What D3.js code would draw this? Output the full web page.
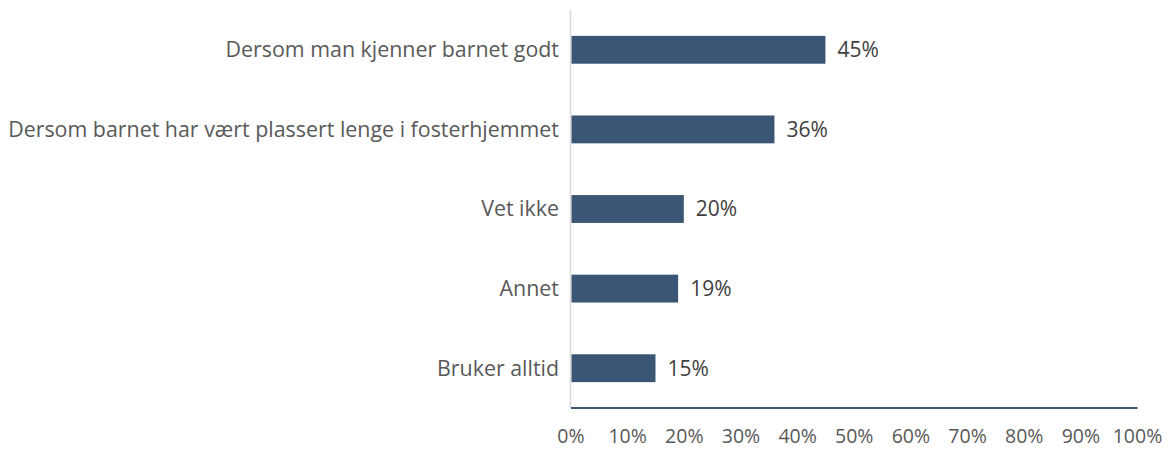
<!DOCTYPE html>
<html><head><meta charset="utf-8">
<script src="https://cdn.jsdelivr.net/npm/d3@7"></script>
<style>body{margin:0;background:#fff}svg{display:block}</style>
</head><body>
<svg id="c" width="1171" height="450"></svg>
<script>
const categories = ["Dersom man kjenner barnet godt","Dersom barnet har vært plassert lenge i fosterhjemmet","Vet ikke","Annet","Bruker alltid"];
const values = [45,36,20,19,15];
const tickValues = [0,10,20,30,40,50,60,70,80,90,100];

const svg = d3.select("#c");
const font = "'Open Sans', sans-serif";
const fs = 21;
const x = d3.scaleLinear().domain([0,100]).range([570.5,1137]);
const y = d3.scaleBand().domain(categories).range([10,408]).paddingInner(0.65).paddingOuter(0.325);

// vertical axis
svg.append("line").attr("x1",570.5).attr("x2",570.5).attr("y1",10).attr("y2",408)
  .attr("stroke","#d9d9d9").attr("stroke-width",1.5);

svg.selectAll("rect.bar").data(values).join("rect")
  .attr("x",x(0)+1).attr("y",(d,i)=>y(categories[i]))
  .attr("width",d=>x(d)-x(0)-1).attr("height",y.bandwidth())
  .attr("fill","#3a5674");

// bottom axis
const xa = d3.axisBottom(x).tickValues(tickValues).tickFormat(d=>d+"%").tickSize(0).tickPadding(21.5);
const g = svg.append("g").attr("transform","translate(0,407.5)").call(xa);
g.select(".domain").attr("stroke","#3a5674").attr("stroke-width",2);
g.selectAll("text").attr("font-family",font).attr("font-size",19.5).attr("fill","#595959");

// category labels
svg.selectAll("text.cat").data(categories).join("text")
  .attr("x",559).attr("y",d=>y(d)+y.bandwidth()/2).attr("dy","0.35em")
  .attr("text-anchor","end").attr("font-family",font).attr("font-size",21.4).attr("fill","#595959")
  .text(d=>d);

// value labels
svg.selectAll("text.val").data(values).join("text")
  .attr("x",d=>x(d)+12).attr("y",(d,i)=>y(categories[i])+y.bandwidth()/2).attr("dy","0.35em")
  .attr("font-family",font).attr("font-size",fs).attr("fill","#404040")
  .text(d=>d+"%");
</script>
</body></html>
